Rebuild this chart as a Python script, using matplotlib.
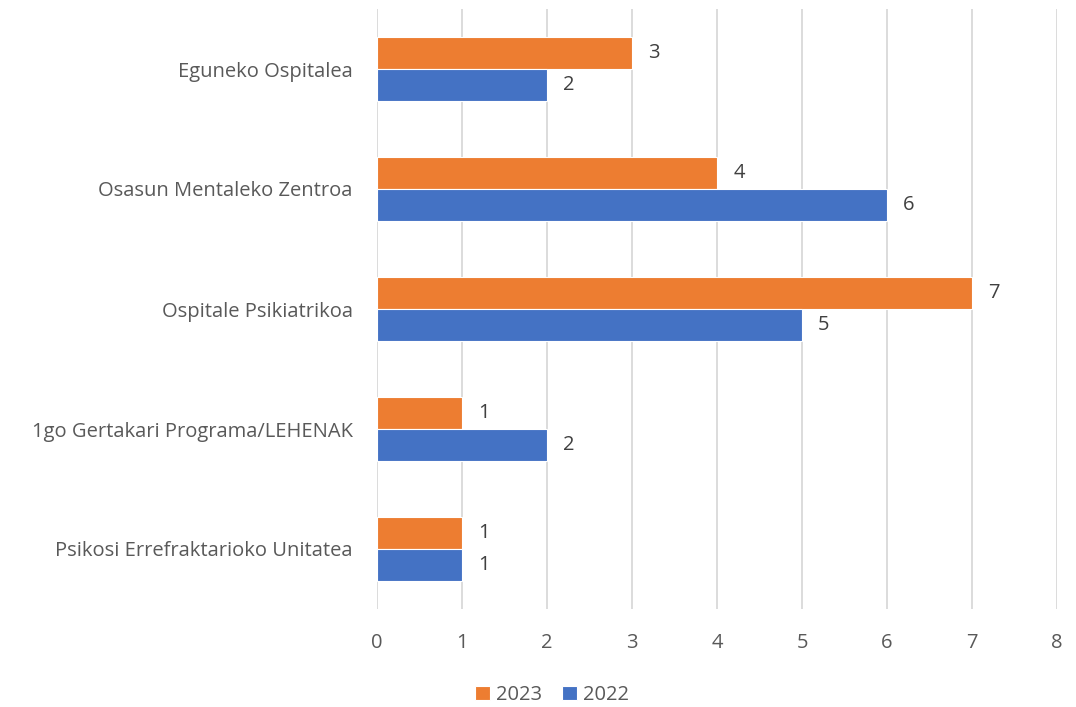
import matplotlib
matplotlib.use("Agg")
import matplotlib.pyplot as plt
import numpy as np

plt.rcParams['font.family'] = ['Open Sans', 'DejaVu Sans']

categories = ["Eguneko Ospitalea", "Osasun Mentaleko Zentroa", "Ospitale Psikiatrikoa",
              "1go Gertakari Programa/LEHENAK", "Psikosi Errefraktarioko Unitatea"]
vals_2023 = [3, 4, 7, 1, 1]
vals_2022 = [2, 6, 5, 2, 1]
xticks = [0, 1, 2, 3, 4, 5, 6, 7, 8]

c2023 = "#ED7D31"
c2022 = "#4472C4"
txt = "#595959"

fig = plt.figure(figsize=(10.76, 7.07), dpi=100)
ax = fig.add_axes([377/1076, 1 - 609/707, 680/1076, 600/707])

y = np.arange(len(categories))
h = 32/120
ax.barh(y - h/2, vals_2023, height=h, color=c2023, edgecolor="white", linewidth=0.8, label="2023", zorder=3)
ax.barh(y + h/2, vals_2022, height=h, color=c2022, edgecolor="white", linewidth=0.8, label="2022", zorder=3)

for yi, v in zip(y, vals_2023):
    ax.text(v + 0.19, yi - h/2, str(v), va="center", ha="left", fontsize=14.5, color="#404040")
for yi, v in zip(y, vals_2022):
    ax.text(v + 0.19, yi + h/2, str(v), va="center", ha="left", fontsize=14.5, color="#404040")

ax.set_ylim(4.5, -0.5)
ax.set_xlim(0, 8)
ax.set_xticks(xticks)
ax.set_yticks(y)
ax.set_yticklabels(categories)
ax.tick_params(axis="both", length=0, labelsize=14.5, colors=txt)
ax.tick_params(axis="x", pad=17)
ax.tick_params(axis="y", pad=17.5)
for s in ax.spines.values():
    s.set_visible(False)
ax.xaxis.grid(True, color="#D9D9D9", linewidth=1.3, zorder=0)
ax.set_axisbelow(True)

handles, labels = ax.get_legend_handles_labels()
fig.legend(handles, labels, loc="center", bbox_to_anchor=(552/1076, 1 - 695/707), ncol=2, frameon=False,
           fontsize=14.5, labelcolor=txt, handlelength=0.75, handleheight=0.75,
           handletextpad=0.3, columnspacing=1.0)

fig.savefig("out.png", dpi=100)
